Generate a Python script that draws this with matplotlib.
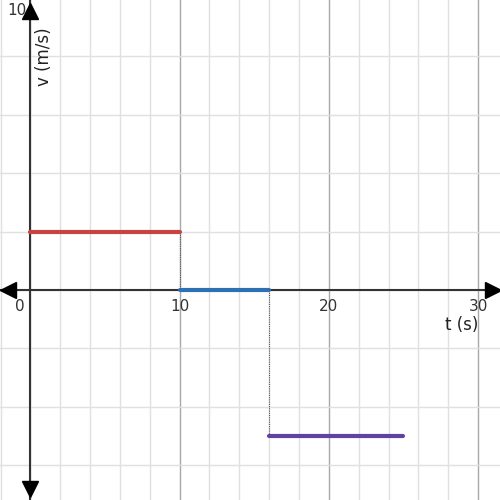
import matplotlib.pyplot as plt
import numpy as np

# velocity segments (t start, t end, v)
t_start = [0, 10, 16]
t_end = [10, 16, 25]
v_vals = [2, 0, -5]
seg_colors = ['#c74440', '#2d70b3', '#6042a6']

x_ticks = [0, 10, 20, 30]

fig = plt.figure(figsize=(5, 5), dpi=100)
ax = fig.add_axes([0, 0, 1, 1])
ax.set_xlim(-2.04, 31.47)
ax.set_ylim(-7.19, 9.93)

# grid
for gx in np.arange(-2, 32, 2):
    c = '#a8a8a8' if gx % 10 == 0 else '#e0e0e0'
    ax.axvline(gx, color=c, lw=1, zorder=0)
for gy in np.arange(-6, 10, 2):
    ax.axhline(gy, color='#e0e0e0', lw=1, zorder=0)

# axes with arrows
ax.plot([-2.04, 31.47], [0, 0], color='#333333', lw=1.5, zorder=2)
ax.plot([0, 0], [-7.19, 9.93], color='#333333', lw=1.5, zorder=2)
ax.plot(-1.5, 0, marker='<', color='black', ms=11, zorder=3, clip_on=False)
ax.plot(31.0, 0, marker='>', color='black', ms=11, zorder=3, clip_on=False)
ax.plot(0, 9.55, marker='^', color='black', ms=11, zorder=3, clip_on=False)
ax.plot(0, -6.8, marker='v', color='black', ms=11, zorder=3, clip_on=False)

# segments
for a, b, v, c in zip(t_start, t_end, v_vals, seg_colors):
    ax.plot([a, b], [v, v], color=c, lw=3, solid_capstyle='round', zorder=4)

# dotted connectors
for i in range(len(v_vals) - 1):
    ax.plot([t_end[i], t_end[i]], [v_vals[i], v_vals[i + 1]], color='#555555',
            lw=0.8, ls=(0, (1, 1)), zorder=3)

# tick labels
for xt in x_ticks:
    lx = xt - 0.7 if xt == 0 else xt
    ax.text(lx, -0.3, str(xt), ha='center', va='top', fontsize=11, color='#333333')
ax.text(-0.25, 9.83, '10', ha='right', va='top', fontsize=11, color='#333333')

ax.text(28.9, -1.2, 't (s)', ha='center', va='center', fontsize=12, color='#222222')
ax.text(0.9, 8.0, 'v (m/s)', ha='center', va='center', rotation=90, fontsize=12,
        color='#222222')

ax.set_xticks([])
ax.set_yticks([])
for s in ax.spines.values():
    s.set_visible(False)

fig.savefig('out.png', dpi=100)
